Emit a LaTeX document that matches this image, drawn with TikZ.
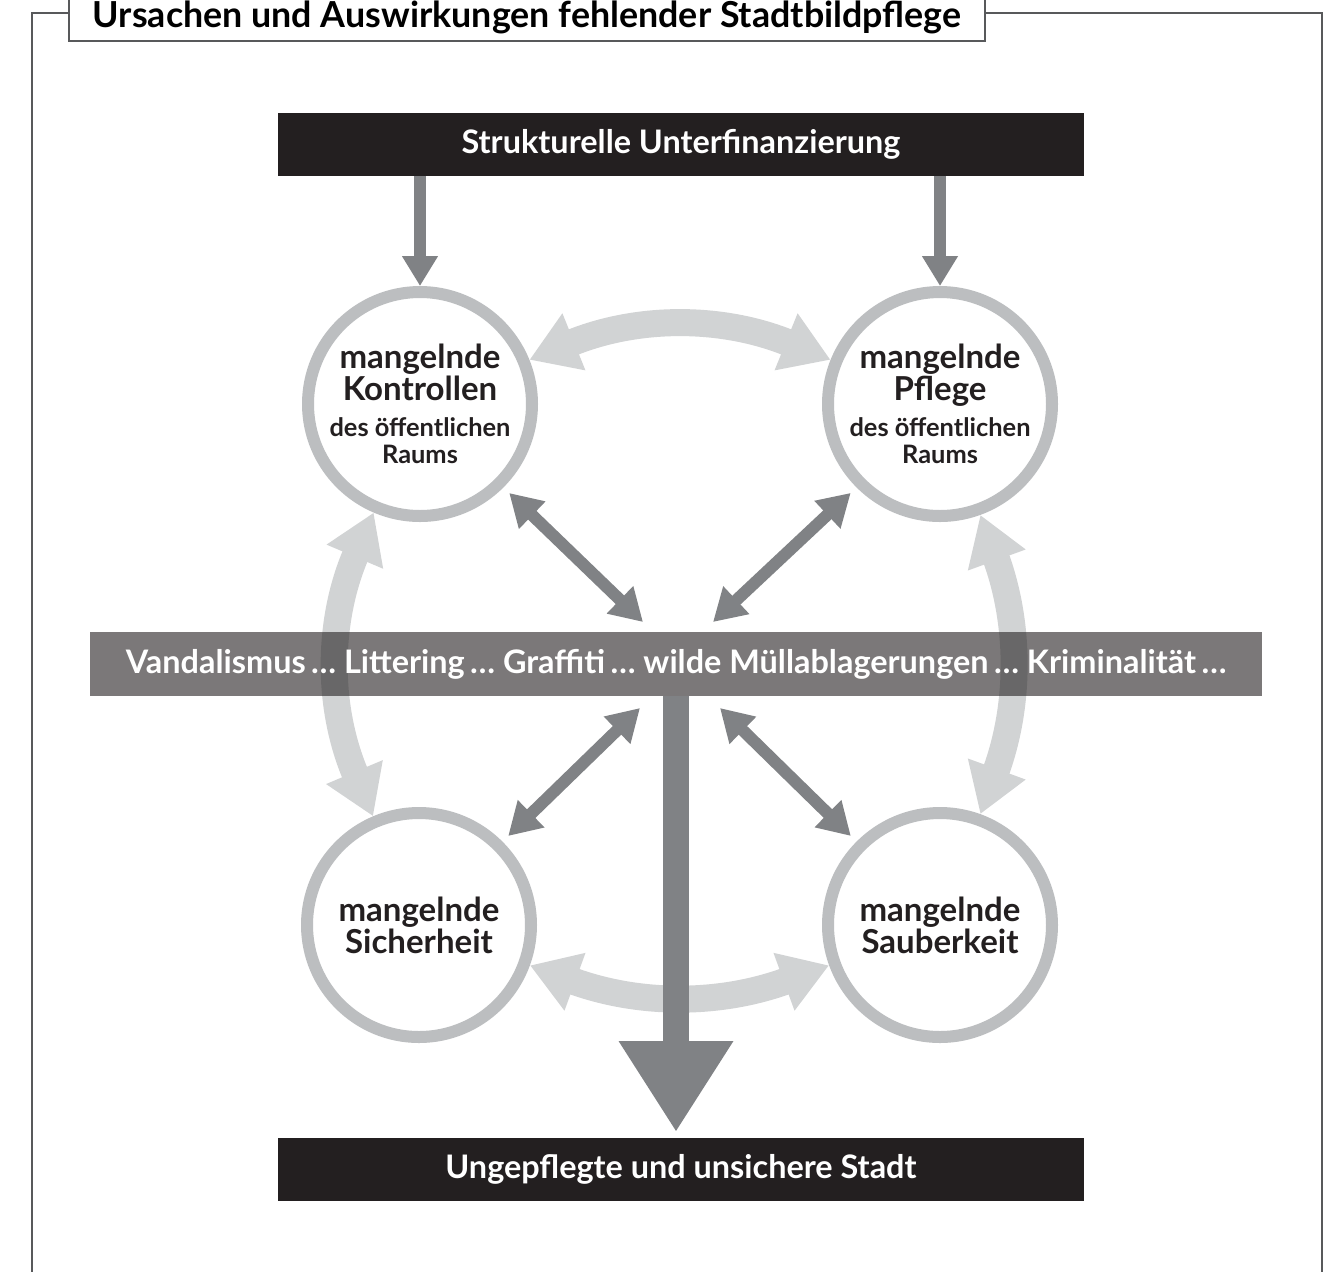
\documentclass[tikz,border=0pt]{standalone}
\usepackage{fontspec}
\setmainfont{Lato}
\usetikzlibrary{arrows.meta}

\definecolor{dunkel}{HTML}{231F20}
\definecolor{pfeilgrau}{HTML}{808285}
\definecolor{ringgrau}{HTML}{BCBEC0}
\definecolor{hellgrau}{HTML}{D1D3D4}
\definecolor{rahmengrau}{HTML}{58595B}

\newcommand{\gross}{\fontsize{16.5}{16}\selectfont}
\newcommand{\klein}{\fontsize{12.7}{13.5}\selectfont}

\begin{document}
\begin{tikzpicture}[x=0.5pt, y=-0.5pt,
  kreis/.style={draw=ringgrau, line width=6pt, circle, minimum size=112pt, inner sep=0pt, align=center, text=dunkel, font=\bfseries\gross},
  balken/.style={fill=dunkel, text=white, minimum width=403pt, minimum height=31.5pt, font=\bfseries\fontsize{16.2}{18}\selectfont},
  dpfeil/.style={pfeilgrau, line width=6pt, -{Triangle[length=15pt, width=17pt]}},
  ddpfeil/.style={pfeilgrau, line width=6pt, {Triangle[length=16pt, width=18pt]}-{Triangle[length=16pt, width=18pt]}},
  bogen/.style={hellgrau, line width=13.5pt, {Triangle[length=24pt, width=29pt]}-{Triangle[length=24pt, width=29pt]}}]
\clip (0,0) rectangle (1339,1271);
\fill[white] (0,0) rectangle (1339,1271);

% Rahmen mit Titel
\coordinate (ol) at (32,13);
\coordinate (or) at (1322,13);
\node[draw=rahmengrau, line width=0.75pt, fill=white, minimum width=458pt, text depth=0pt, inner ysep=7pt, anchor=base, font=\bfseries\fontsize{17.9}{20}\selectfont] (titel) at (527,27) {Ursachen und Auswirkungen fehlender Stadtbildpflege};
\draw[rahmengrau, line width=0.75pt] (titel.west |- ol) -- (ol) -- (32,1280);
\draw[rahmengrau, line width=0.75pt] (titel.east |- or) -- (or) -- (1322,1280);

% Kreise
\node[kreis] (kon) at (420,404) {mangelnde\\Kontrollen\\[2pt]\klein des öffentlichen\\[-2.5pt]\klein Raums};
\node[kreis] (pfl) at (940,404) {mangelnde\\Pflege\\[2pt]\klein des öffentlichen\\[-2.5pt]\klein Raums};
\node[kreis] (sich) at (419,925) {mangelnde\\Sicherheit};
\node[kreis] (saub) at (940,925) {mangelnde\\Sauberkeit};

\node[balken] (struk) at (681,144.5) {Strukturelle Unterfinanzierung};
\node[balken] (stadt) at (681,1169) {Ungepflegte und unsichere Stadt};

% helle Boegen
\draw[bogen] (kon) to[bend left=22] (pfl);
\draw[bogen] (kon) to[bend right=23] (sich);
\draw[bogen] (pfl) to[bend left=20] (saub);
\draw[bogen] (sich) to[bend right=20] (saub);

\node[fill=dunkel, fill opacity=0.6, text opacity=1, text=white, minimum width=586pt, minimum height=32pt, font=\bfseries\fontsize{16.2}{18}\selectfont] (band) at (676,664) {Vandalismus\,… Littering\,… Graffiti\,… wilde Müllablagerungen\,… Kriminalität\,…};

\draw[dpfeil] (struk.south -| kon) -- (kon);
\draw[dpfeil] (struk.south -| pfl) -- (pfl);

\coordinate (v1) at (643,622);
\coordinate (v2) at (713,622);
\coordinate (v3) at (640,708);
\coordinate (v4) at (720,708);
\draw[ddpfeil, shorten <=4pt] (kon.-45) -- (v1);
\draw[ddpfeil, shorten <=4pt] (pfl.-135) -- (v2);
\draw[ddpfeil, shorten <=4pt] (sich.45) -- (v3);
\draw[ddpfeil, shorten <=4pt] (saub.135) -- (v4);

\draw[pfeilgrau, line width=13pt, -{Triangle[length=45.5pt, width=54pt]}, shorten >=2.5pt] (band.south) -- (band.south |- stadt.north);
\end{tikzpicture}
\end{document}
